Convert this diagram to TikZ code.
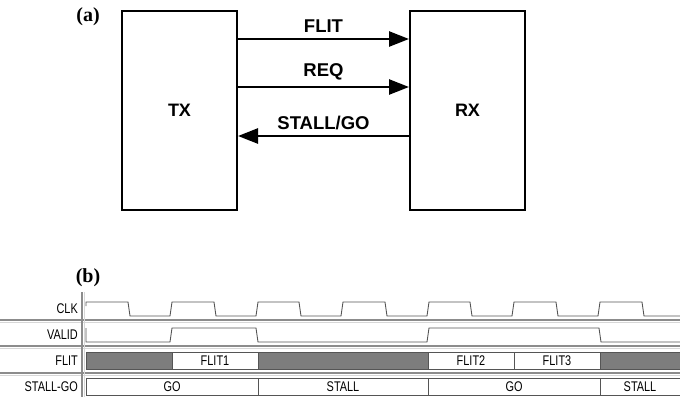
\documentclass[tikz,border=0pt]{standalone}
\usepackage{fontspec}
\setmainfont{Liberation Sans}
\newfontfamily\capfont{Liberation Serif}
\usepackage{tikz}
\usetikzlibrary{arrows.meta, positioning}
\definecolor{wavegray}{RGB}{85,85,85}
\definecolor{rowgray}{RGB}{140,140,140}
\definecolor{rowlight}{RGB}{215,215,215}
\definecolor{busfill}{RGB}{125,125,125}
\newcommand{\narrow}[1]{\scalebox{0.78}[1]{#1}}

\begin{document}
\begin{tikzpicture}[
  x=1pt, y=-1pt,
  blk/.style={draw, line width=2pt, minimum width=115pt, minimum height=199pt,
              font=\fontsize{18}{20}\selectfont\bfseries},
  arr/.style={line width=2.6pt, -{Triangle[length=20pt, width=15pt]}},
  sig/.style={font=\fontsize{18.5}{20}\selectfont\bfseries},
  tag/.style={font=\capfont\fontsize{20}{22}\selectfont\bfseries},
  wname/.style={anchor=east, inner sep=0pt, font=\fontsize{14}{15}\selectfont},
  wtext/.style={inner sep=0pt, font=\fontsize{14}{15}\selectfont},
  wave/.style={wavegray, line width=0.9pt},
  sep/.style={rowgray, line width=1.4pt},
  sepl/.style={rowlight, line width=1pt}
]
  \useasboundingbox (0,0) rectangle (680,397);

  % (a) link between transmitter and receiver
  \node[tag] (taga) at (88,17) {(a)};
  \node[blk] (tx) at (179.5,110.5) {TX};
  \node[blk] (rx) at (467.5,110.5) {RX};

  \draw[arr] ([yshift=71.5pt]tx.east) -- node[sig, above=2pt] (flit) {FLIT}
             ([yshift=71.5pt]rx.west);
  \draw[arr] ([yshift=23.5pt]tx.east) -- node[sig, above=2pt] (req) {REQ}
             ([yshift=23.5pt]rx.west);
  \draw[arr] ([yshift=-25.5pt]rx.west) -- node[sig, above=2pt] (stall) {STALL/GO}
             ([yshift=-25.5pt]tx.east);

  % (b) waveforms
  \node[tag] (tagb) at (88,278) {(b)};

  % row separators
  \draw[sepl] (0,322) -- (680,322);
  \draw[sepl] (0,348) -- (680,348);
  \draw[sepl] (0,375) -- (680,375);
  \draw[sep] (0,320) -- (680,320);
  \draw[sep] (0,346) -- (680,346);
  \draw[sep] (0,373) -- (680,373);
  \draw[sepl] (84,292) -- (84,397);
  \draw[sep] (82,292) -- (82,397);

  % signal names
  \node[wname] (nclk)   at (78,309) {\narrow{CLK}};
  \node[wname] (nvalid) at (78,335) {\narrow{VALID}};
  \node[wname] (nflit)  at (78,361) {\narrow{FLIT}};
  \node[wname] (nsg)    at (78,387) {\narrow{STALL-GO}};

  % CLK
  \draw[wave] (86,306) -- (86,302) -- (128,302) -- (130,316) -- (170,316)
    -- (172,302) -- (214,302) -- (216,316) -- (256,316) -- (258,302)
    -- (299,302) -- (301,316) -- (341,316) -- (343,302) -- (385,302)
    -- (387,316) -- (427,316) -- (429,302) -- (470,302) -- (472,316)
    -- (512,316) -- (514,302) -- (556,302) -- (558,316) -- (598,316)
    -- (600,302) -- (642,302) -- (644,316) -- (680,316);

  % VALID
  \draw[wave] (86,328) -- (86,342) -- (170,342) -- (172,328) -- (256,328)
    -- (258,342) -- (427,342) -- (429,328) -- (599,328) -- (601,342)
    -- (680,342);

  % FLIT
  \draw[wave, fill=busfill] (86,352) rectangle (172,369);
  \draw[wave] (172,352) rectangle (258,369);
  \draw[wave, fill=busfill] (258,352) rectangle (428,369);
  \draw[wave] (428,352) rectangle (514,369);
  \draw[wave] (514,352) rectangle (600,369);
  \draw[wave, fill=busfill] (600,352) rectangle (681,369);
  \node[wtext] (f1) at (215,361) {\narrow{FLIT1}};
  \node[wtext] (f2) at (471,361) {\narrow{FLIT2}};
  \node[wtext] (f3) at (557,361) {\narrow{FLIT3}};

  % STALL-GO
  \draw[wave] (86,378) rectangle (681,395);
  \draw[wave] (258,378) -- (258,395);
  \draw[wave] (428,378) -- (428,395);
  \draw[wave] (600,378) -- (600,395);
  \node[wtext] (g1) at (172,387) {\narrow{GO}};
  \node[wtext] (s1) at (343,387) {\narrow{STALL}};
  \node[wtext] (g2) at (514,387) {\narrow{GO}};
  \node[wtext] (s2) at (640,387) {\narrow{STALL}};

\end{tikzpicture}
\end{document}
